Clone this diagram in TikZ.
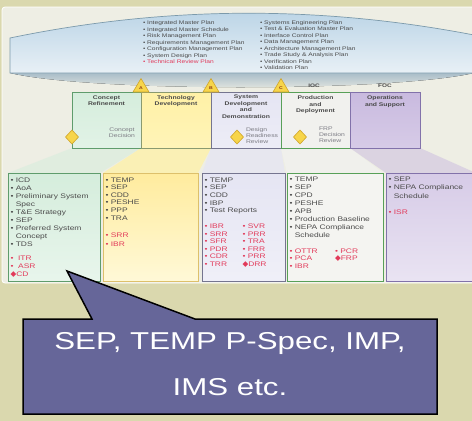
\documentclass[tikz,border=0pt]{standalone}
\usepackage{fontspec}
\setmainfont[FakeStretch=1.28]{Liberation Sans}
\newfontfamily\symfont{DejaVu Sans}
\usetikzlibrary{shapes.geometric}

\definecolor{khaki}{HTML}{DAD8AE}
\definecolor{panel}{HTML}{EEEEE4}
\definecolor{bannerTop}{HTML}{B7D2E5}
\definecolor{bannerBot}{HTML}{E8F0F6}
\definecolor{bannerEdge}{HTML}{7C9AAB}
\definecolor{bannerShade}{HTML}{A9BDC9}
\definecolor{txtgray}{HTML}{4A4A4A}
\definecolor{lblgray}{HTML}{7C7C84}
\definecolor{revred}{HTML}{E23A5A}
\definecolor{crfill}{HTML}{D5EDDC}
\definecolor{crline}{HTML}{5F9C6C}
\definecolor{tdfill}{HTML}{FFF1A6}
\definecolor{tdline}{HTML}{8A9A70}
\definecolor{sdfill}{HTML}{E5E5F3}
\definecolor{sdline}{HTML}{75758F}
\definecolor{pdfill}{HTML}{F1F1EE}
\definecolor{pdline}{HTML}{58A058}
\definecolor{osfill}{HTML}{C9BADF}
\definecolor{osline}{HTML}{8272AA}
\definecolor{msfill}{HTML}{F7D54A}
\definecolor{msline}{HTML}{CFA52C}
\definecolor{msletter}{HTML}{8B3A1A}
\definecolor{calloutfill}{HTML}{666699}

\newcommand\planfont{\fontsize{5.2}{6.5}\selectfont}
\newcommand\phasefont{\bfseries\fontsize{5.3}{6.8}\selectfont}
\newcommand\lblfont{\fontsize{5.3}{6.1}\selectfont}
\newcommand\bul{\textbullet\ }
\newcommand\cont{\hphantom{\textbullet\ }}
\newcommand\keyms{{\symfont\fontsize{7.5}{7.5}\selectfont ◆}}

\begin{document}
\begin{tikzpicture}[x=1pt,y=-1pt,
  every node/.style={inner sep=0pt, outer sep=0pt},
  phase/.style={draw, line width=0.8pt, minimum width=#1, minimum height=56pt, anchor=north west},
  docbox/.style={draw, line width=0.8pt, minimum width=#1, minimum height=108pt, anchor=north west},
  phasetitle/.style={font=\phasefont, text=txtgray, align=center, anchor=north},
  decision/.style={font=\lblfont, text=lblgray, anchor=north west, align=left},
  plans/.style={font=\planfont, text=txtgray, align=left, anchor=north west},
  items/.style={font={\fontsize{6.6}{#1}\selectfont}, text=txtgray, align=left, anchor=north west},
  reviews/.style={items=#1, text=revred},
  milestone/.style={diamond, draw=msline, fill=msfill, line width=0.6pt, minimum width=13pt, minimum height=14pt},
  msmark/.style={draw=msline, fill=msfill, line width=0.6pt, line join=round},
  msletter/.style={font=\bfseries\fontsize{4}{4}\selectfont, text=msletter},
  gate/.style={font=\bfseries\fontsize{5}{5}\selectfont, text=txtgray},
]
\useasboundingbox (0,0) rectangle (472,421);
\clip (0,0) rectangle (472,421);

% background and light panel
\fill[khaki] (0,0) rectangle (472,421);
\path[fill=panel, draw=white, line width=0.8pt, rounded corners=3pt] (2,7) rectangle (480,283);

% plans banner with its soft shadow
\fill[top color=bannerShade, bottom color=panel] (10,73) .. controls (90,92) and (390,92) .. (474,73) -- cycle;
\draw[bannerEdge, line width=0.7pt, top color=bannerTop, bottom color=bannerBot]
  (10,73) -- (10,38) .. controls (164,6) and (318,5) .. (474,35) -- (474,73) -- cycle;

\node[plans] (planA) at (143,21) {\bul Integrated Master Plan\\
  \bul Integrated Master Schedule\\
  \bul Risk Management Plan\\
  \bul Requirements Management Plan\\
  \bul Configuration Management Plan\\
  \bul System Design Plan\\
  {\color{revred}\bul Technical Review Plan}};
\node[plans] (planB) at (260,20.4) {\bul Systems Engineering Plan\\
  \bul Test \& Evaluation Master Plan\\
  \bul Interface Control Plan\\
  \bul Data Management Plan\\
  \bul Architecture Management Plan\\
  \bul Trade Study \& Analysis Plan\\
  \bul Verification Plan\\
  \bul Validation Plan};

% lower document boxes (named first so the funnels can reach them)
\path (8,173) node[docbox=92pt] (b1) {}
      (103,173) node[docbox=95pt] (b2) {}
      (202,173) node[docbox=83pt] (b3) {}
      (287,173) node[docbox=96pt] (b4) {}
      (386,173) node[docbox=90pt] (b5) {};

% phase boxes
\path (72,92) node[phase=69pt] (cr) {}
      (141,92) node[phase=70pt] (td) {}
      (211,92) node[phase=70pt] (sd) {}
      (281,92) node[phase=69pt] (pd) {}
      (350,92) node[phase=70pt] (os) {};

% funnels from each phase down to its documents
\fill[crfill, opacity=0.55] (cr.south west) -- (cr.south east) -- (b1.north east) -- (b1.north west) -- cycle;
\fill[tdfill, opacity=0.75] (td.south west) -- (td.south east) -- (b2.north east) -- (b2.north west) -- cycle;
\fill[sdfill, opacity=0.75] (sd.south west) -- (sd.south east) -- (b3.north east) -- (b3.north west) -- cycle;
\fill[pdfill, opacity=0.8] (pd.south west) -- (pd.south east) -- (b4.north east) -- (b4.north west) -- cycle;
\fill[osfill, opacity=0.5] (os.south west) -- (os.south east) -- (b5.north east) -- (b5.north west) -- cycle;

% phase boxes drawn over the funnels
\path (72,92) node[phase=69pt, draw=crline, top color=crfill, bottom color=crfill!70!white] (cr) {}
      (141,92) node[phase=70pt, draw=tdline, top color=tdfill, bottom color=tdfill!80!white] (td) {}
      (211,92) node[phase=70pt, draw=sdline, top color=sdfill, bottom color=sdfill!70!white] (sd) {}
      (281,92) node[phase=69pt, draw=pdline, fill=pdfill] (pd) {}
      (350,92) node[phase=70pt, draw=osline, top color=osfill, bottom color=osfill!75!white] (os) {};

\node[phasetitle] (crT) at (106.5,95.3) {Concept\\Refinement};
\node[phasetitle] (tdT) at (176,95.3) {Technology\\Development};
\node[phasetitle] (sdT) at (246,94.5) {System\\Development\\and\\Demonstration};
\node[phasetitle] (pdT) at (315.5,95.5) {Production\\and\\Deployment};
\node[phasetitle] (osT) at (385,95.5) {Operations\\and Support};

% decision points
\node[milestone] (dCD) at (72,137) {};
\node[milestone] (dDRR) at (237,137) {};
\node[milestone] (dFRP) at (300,137) {};
\node[decision, align=center, anchor=north] (lCD) at (122,127.8) {Concept\\Decision};
\node[decision] (lDRR) at (246,127.8) {Design\\Readiness\\Review};
\node[decision] (lFRP) at (319,126.5) {FRP\\Decision\\Review};

% milestones A, B, C and capability gates
\foreach \mx/\ml in {141/A, 211/B, 281/C} {
  \draw[msmark] (\mx-8,92) -- (\mx,78.5) -- (\mx+8,92) -- cycle;
  \node[msletter] (ms\ml) at (\mx,88) {\ml};
}
\node[gate] (ioc) at (314,86) {IOC};
\node[gate] (foc) at (385,86) {FOC};

% document boxes drawn over the funnels
\path (8,173) node[docbox=92pt, draw=crline, top color=crfill, bottom color=crfill!55!white] (b1) {}
      (103,173) node[docbox=95pt, draw=msline!70!white, top color=tdfill!95!orange, bottom color=tdfill!45!white] (b2) {}
      (202,173) node[docbox=83pt, draw=sdline, top color=sdfill, bottom color=sdfill!60!white] (b3) {}
      (287,173) node[docbox=96pt, draw=pdline, fill=pdfill!80!white] (b4) {}
      (386,173) node[docbox=90pt, draw=osline, top color=osfill!75!white, bottom color=osfill!40!white] (b5) {};

% contents of the document boxes
\node[items=8] (t1) at (10.5,177.6) {\bul ICD\\ \bul AoA\\ \bul Preliminary System\\ \cont Spec\\
  \bul T\&E Strategy\\ \bul SEP\\ \bul Preferred System\\ \cont Concept\\ \bul TDS};
\node[reviews=8.3] (r1) at (10.5,255.6) {\bul\ ITR\\ \bul\ ASR\\ \keyms CD};

\node[items=7.6] (t2) at (105.5,177.6) {\bul TEMP\\ \bul SEP\\ \bul CDD\\ \bul PESHE\\ \bul PPP\\ \bul TRA};
\node[reviews=9] (r2) at (105.5,232.6) {\bul SRR\\ \bul IBR};

\node[items=7.7] (t3) at (204.5,177.6) {\bul TEMP\\ \bul SEP\\ \bul CDD\\ \bul IBP\\ \bul Test Reports};
\node[reviews=7.5] (r3a) at (204.5,224.3) {\bul IBR\\ \bul SRR\\ \bul SFR\\ \bul PDR\\ \bul CDR\\ \bul TRR};
\node[reviews=7.5] (r3b) at (242.5,224.3) {\bul SVR\\ \bul PRR\\ \bul TRA\\ \bul FRR\\ \bul PRR\\ \keyms DRR};

\node[items=8] (t4) at (289.5,176.6) {\bul TEMP\\ \bul SEP\\ \bul CPD\\ \bul PESHE\\ \bul APB\\
  \bul Production Baseline\\ \bul NEPA Compliance\\ \cont Schedule};
\node[reviews=7.7] (r4a) at (289.5,248.6) {\bul OTTR\\ \bul PCA\\ \bul IBR};
\node[reviews=7.7] (r4b) at (335,248.6) {\bul PCR\\ \keyms FRP};

\node[items=8.5] (t5) at (388.5,176.6) {\bul SEP\\ \bul NEPA Compliance\\ \cont Schedule};
\node[reviews=8] (r5) at (388.5,209.6) {\bul ISR};

% callout
\coordinate (tip) at (67,271);
\draw[line width=1.5pt, fill=calloutfill, line join=miter]
  (23,319) -- (92,319) -- (tip) -- (195,319) -- (437,319) -- (437,414) -- (23,414) -- cycle;
\node[font=\fontsize{24.4}{46}\selectfont, text=white, align=center, anchor=north] (callout)
  at (230,332.6) {SEP, TEMP P-Spec, IMP,\\IMS etc.};
\end{tikzpicture}
\end{document}
